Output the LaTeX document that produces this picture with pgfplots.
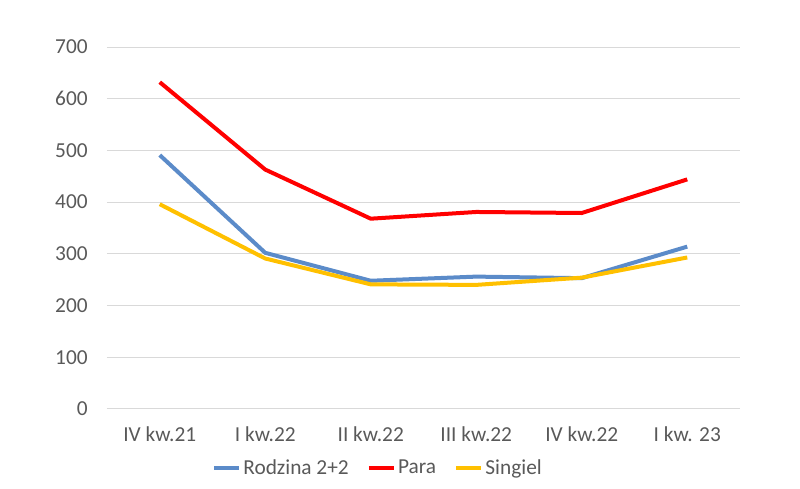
\documentclass[border=0pt]{standalone}
\usepackage{pgfplots}
\pgfplotsset{compat=1.18}
\usepackage{fontspec}
\setmainfont{Carlito}
\definecolor{cblue}{HTML}{5B8BC9}
\definecolor{cred}{HTML}{FF0000}
\definecolor{cyel}{HTML}{FFC000}
\definecolor{tgray}{HTML}{595959}
\definecolor{ggray}{HTML}{D9D9D9}
\begin{document}
\begin{tikzpicture}
\path[use as bounding box] (-80.25pt,-60pt) rectangle (519.75pt,306.75pt);
\begin{axis}[
  at={(0,0)}, anchor=south west,
  scale only axis, width=474.75pt, height=271.5pt,
  xmin=-0.5, xmax=5.5, ymin=0, ymax=700,
  xtick={0,1,2,3,4,5},
  xticklabels={IV kw.21, I kw.22, II kw.22, III kw.22, IV kw.22, I kw. 23},
  ytick={0,100,...,700},
  ymajorgrids, grid style={ggray, line width=0.75pt},
  axis line style={draw=none},
  major tick style={draw=none},
  /pgf/number format/assume math mode=true,
  tick label style={font=\fontsize{16}{19}\selectfont, text=tgray},
  yticklabel style={xshift=-11pt},
  xticklabel style={yshift=-10pt},
  legend style={at={(axis description cs:0.428,-0.163)}, anchor=center, draw=none, fill=none,
    font=\fontsize{16}{19}\selectfont, text=tgray,
    nodes={inner xsep=1.5pt},
    /tikz/every even column/.append style={column sep=12pt}},
  legend columns=3,
  legend image code/.code={\draw[#1, line width=3pt] (0pt,0pt) -- (19pt,0pt);},
  legend cell align=left,
]
\addplot[cblue, line width=3pt] coordinates {(0,491) (1,302) (2,248) (3,256) (4,253) (5,314)};
\addlegendentry{Rodzina 2+2}
\addplot[cred, line width=3pt] coordinates {(0,632) (1,463) (2,368) (3,381) (4,379) (5,444)};
\addlegendentry{Para}
\addplot[cyel, line width=3pt] coordinates {(0,396) (1,291) (2,241) (3,240) (4,254) (5,293)};
\addlegendentry{Singiel}
\end{axis}
\end{tikzpicture}
\end{document}
